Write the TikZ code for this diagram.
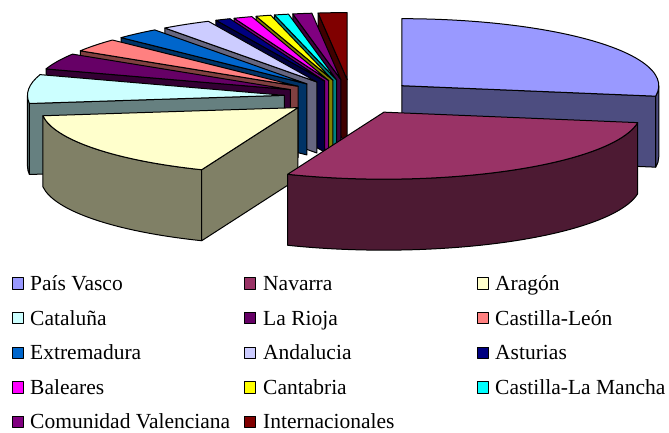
\documentclass[tikz,border=0pt]{standalone}
\usepackage{fontspec}
\setmainfont{Liberation Serif}
\newfontfamily\legfont{Liberation Serif}
\definecolor{pvT}{HTML}{9999FF}\definecolor{pvS}{HTML}{4D4D80}
\definecolor{naT}{HTML}{993366}\definecolor{naS}{HTML}{4D1A33}
\definecolor{arT}{HTML}{FFFFCC}\definecolor{arS}{HTML}{808066}
\definecolor{caT}{HTML}{CCFFFF}\definecolor{caS}{HTML}{668080}
\definecolor{riT}{HTML}{660066}\definecolor{riS}{HTML}{330033}
\definecolor{clT}{HTML}{FF8080}\definecolor{clS}{HTML}{804040}
\definecolor{exT}{HTML}{0066CC}\definecolor{exS}{HTML}{003366}
\definecolor{anT}{HTML}{CCCCFF}\definecolor{anS}{HTML}{666680}
\definecolor{asT}{HTML}{000080}\definecolor{asS}{HTML}{000040}
\definecolor{baT}{HTML}{FF00FF}\definecolor{baS}{HTML}{800080}
\definecolor{ctT}{HTML}{FFFF00}\definecolor{ctS}{HTML}{808000}
\definecolor{cmT}{HTML}{00FFFF}\definecolor{cmS}{HTML}{008080}
\definecolor{cvT}{HTML}{800080}\definecolor{cvS}{HTML}{400040}
\definecolor{inT}{HTML}{800000}\definecolor{inS}{HTML}{400000}
\newcommand\PSset[2]{%
  \pgfmathsetmacro\mA{(#1+#2)/2}%
  \pgfmathsetmacro\ox{351+0.26*257*cos(\mA)}%
  \pgfmathsetmacro\oy{335+0.26*67*sin(\mA)}%
  \pgfmathsetmacro\oyd{\oy-71}}
\newcommand\PStop[3]{%
  \filldraw[face, fill=#3] (\ox,\oy) -- ([shift={(#1:257 and 67)}]\ox,\oy)
    arc[start angle=#1, end angle=#2, x radius=257, y radius=67] -- cycle;}
\newcommand\PSrad[2]{%
  \filldraw[face, fill=#2] (\ox,\oy) -- ([shift={(#1:257 and 67)}]\ox,\oy)
    -- ([shift={(#1:257 and 67)}]\ox,\oyd) -- (\ox,\oyd) -- cycle;}
\newcommand\PScurv[3]{%
  \filldraw[face, fill=#3] ([shift={(#1:257 and 67)}]\ox,\oy)
    arc[start angle=#1, end angle=#2, x radius=257, y radius=67]
    -- ([shift={(#2:257 and 67)}]\ox,\oyd)
    arc[start angle=#2, end angle=#1, x radius=257, y radius=67] -- cycle;}
\begin{document}
\begin{tikzpicture}[x=1pt, y=1pt, line join=round,
  face/.style={draw=black, line width=1pt},
  legbox/.style={draw=black, line width=0.8pt, minimum size=11.5pt, inner sep=0pt},
  legtxt/.style={anchor=base west, inner sep=0pt, font=\legfont\fontsize{21.5}{24}\selectfont}]
\useasboundingbox (0,0) rectangle (669,432);
% back small slices
\PSset{90}{96.5}\PSrad{96.5}{inS}\PStop{90}{96.5}{inT}
\PSset{96.5}{100.8}\PSrad{100.8}{cvS}\PStop{96.5}{100.8}{cvT}
\PSset{100.8}{104}\PSrad{104}{cmS}\PStop{100.8}{104}{cmT}
\PSset{104}{107.4}\PSrad{107.4}{ctS}\PStop{104}{107.4}{ctT}
\PSset{107.4}{111.6}\PSrad{111.6}{baS}\PStop{107.4}{111.6}{baT}
\PSset{111.6}{115}\PSrad{115}{asS}\PStop{111.6}{115}{asT}
\PSset{115}{126.3}\PSrad{126.3}{anS}\PStop{115}{126.3}{anT}
\PSset{126.3}{136.3}\PSrad{136.3}{exS}\PStop{126.3}{136.3}{exT}
\PSset{136.3}{148}\PSrad{148}{clS}\PStop{136.3}{148}{clT}
\PSset{148}{162}\PSrad{162}{riS}\PStop{148}{162}{riT}
\PSset{162}{187}\PScurv{180}{187}{caS}\PSrad{187}{caS}\PStop{162}{187}{caT}
% Pais Vasco
\PSset{351}{450}\PScurv{351}{360}{pvS}\PSrad{351}{pvS}\PStop{351}{450}{pvT}
% Aragon
\PSset{187}{248}\PScurv{187}{248}{arS}\PSrad{248}{arS}\PStop{187}{248}{arT}
% Navarra
\PSset{248}{351}\PScurv{248}{351}{naS}\PStop{248}{351}{naT}
% legend
\node[legbox, fill=pvT] (k1) at (18,148.5) {};  \node[legtxt] (t1) at (30,141.3) {País Vasco};
\node[legbox, fill=naT] (k2) at (250,148.5) {}; \node[legtxt] (t2) at (263,141.3) {Navarra};
\node[legbox, fill=arT] (k3) at (483,148.5) {}; \node[legtxt] (t3) at (495,141.3) {Aragón};
\node[legbox, fill=caT] (k4) at (18,113.9) {};  \node[legtxt] (t4) at (30,106.7) {Cataluña};
\node[legbox, fill=riT] (k5) at (250,113.9) {}; \node[legtxt] (t5) at (263,106.7) {La Rioja};
\node[legbox, fill=clT] (k6) at (483,113.9) {}; \node[legtxt] (t6) at (495,106.7) {Castilla-León};
\node[legbox, fill=exT] (k7) at (18,79.3) {};   \node[legtxt] (t7) at (30,72.1) {Extremadura};
\node[legbox, fill=anT] (k8) at (250,79.3) {};  \node[legtxt] (t8) at (263,72.1) {Andalucia};
\node[legbox, fill=asT] (k9) at (483,79.3) {};  \node[legtxt] (t9) at (495,72.1) {Asturias};
\node[legbox, fill=baT] (k10) at (18,44.7) {};  \node[legtxt] (t10) at (30,37.5) {Baleares};
\node[legbox, fill=ctT] (k11) at (250,44.7) {}; \node[legtxt] (t11) at (263,37.5) {Cantabria};
\node[legbox, fill=cmT] (k12) at (483,44.7) {}; \node[legtxt] (t12) at (495,37.5) {Castilla-La Mancha};
\node[legbox, fill=cvT] (k13) at (18,10.3) {};  \node[legtxt] (t13) at (30,3.4) {Comunidad Valenciana};
\node[legbox, fill=inT] (k14) at (250,10.3) {}; \node[legtxt] (t14) at (263,3.4) {Internacionales};
\end{tikzpicture}
\end{document}
